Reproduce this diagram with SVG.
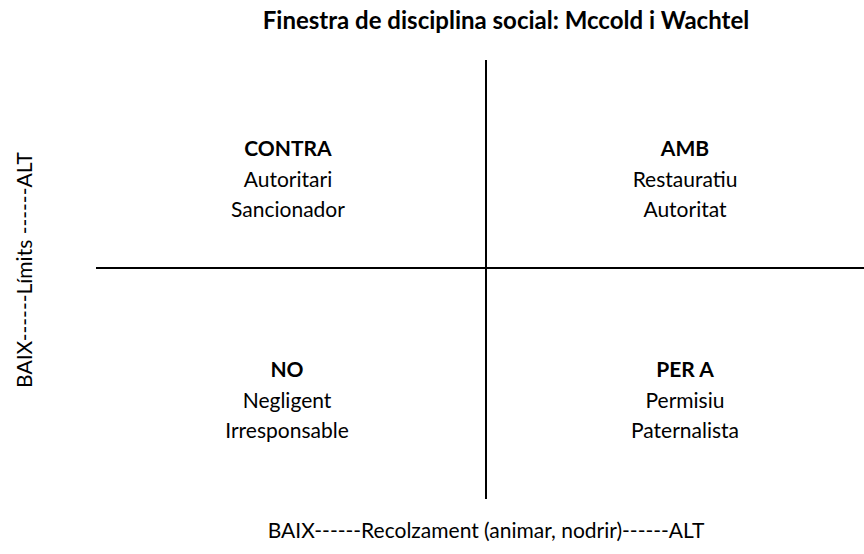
<svg xmlns="http://www.w3.org/2000/svg" width="864" height="554" viewBox="0 0 864 554">
<style>
text{font-family:"Lato","Open Sans",sans-serif;fill:#000;text-anchor:middle}
.t{font-size:24px;font-weight:bold}
.h{font-size:21px;font-weight:bold}
.l{font-size:21px}
.ax{stroke:#000;stroke-width:2;fill:none}
</style>
<rect width="864" height="554" fill="#fff"/>
<text class="t" x="506" y="29">Finestra de disciplina social: Mccold i Wachtel</text>
<g id="connectors">
<line class="ax" x1="486" y1="60" x2="486" y2="499"/>
<line class="ax" x1="96" y1="268" x2="864" y2="268"/>
</g>
<g id="contra"><text class="h" x="288" y="156">CONTRA</text><text class="l" x="288" y="187">Autoritari</text><text class="l" x="288" y="217">Sancionador</text></g>
<g id="amb"><text class="h" x="685" y="156">AMB</text><text class="l" x="685" y="187">Restauratiu</text><text class="l" x="685" y="217">Autoritat</text></g>
<g id="no"><text class="h" x="287" y="377">NO</text><text class="l" x="287" y="408">Negligent</text><text class="l" x="287" y="438">Irresponsable</text></g>
<g id="pera"><text class="h" x="685" y="377">PER A</text><text class="l" x="685" y="408">Permisiu</text><text class="l" x="685" y="438">Paternalista</text></g>
<text class="l" x="486" y="538">BAIX------Recolzament (animar, nodrir)------ALT</text>
<text class="l" transform="translate(32,270) rotate(-90)">BAIX------Límits ------ALT</text>
</svg>
